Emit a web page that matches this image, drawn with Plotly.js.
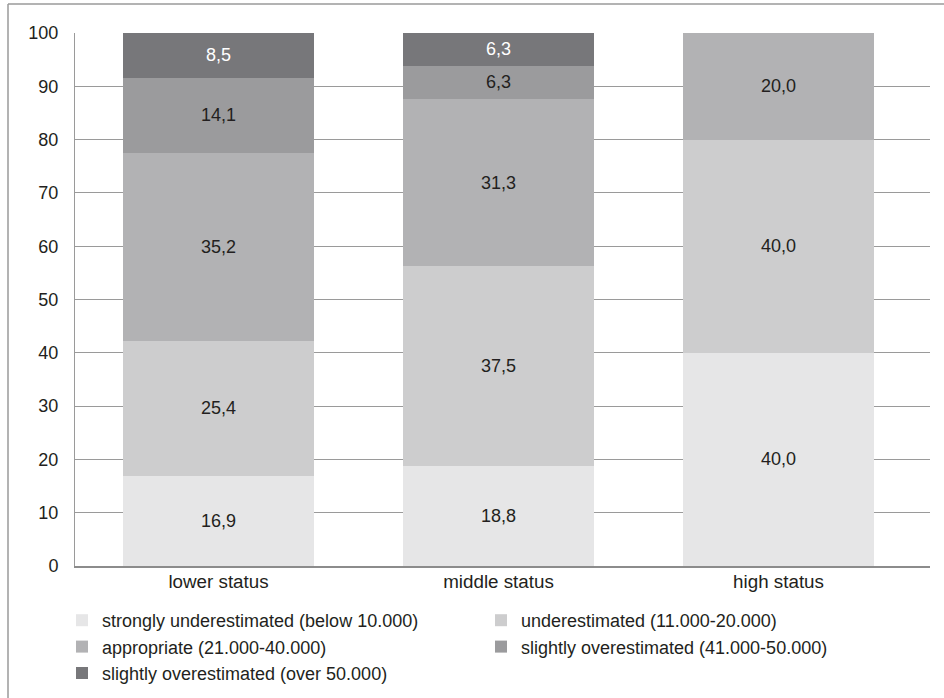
<!DOCTYPE html>
<html>
<head>
<meta charset="utf-8">
<script src="https://cdn.plot.ly/plotly-3.0.1.min.js"></script>
<style>html,body{margin:0;padding:0;background:#fff;}#chart{width:944px;height:698px;}</style>
</head>
<body>
<div id="chart"></div>
<script>
const categories = ["lower status", "middle status", "high status"];
const seriesNames = [
  "strongly underestimated (below 10.000)",
  "underestimated (11.000-20.000)",
  "appropriate (21.000-40.000)",
  "slightly overestimated (41.000-50.000)",
  "slightly overestimated (over 50.000)"
];
const strongUnder = [16.9, 18.8, 40.0];
const under = [25.4, 37.5, 40.0];
const appropriate = [35.2, 31.3, 20.0];
const slightOver = [14.1, 6.3, null];
const overFifty = [8.5, 6.3, null];
const yTicks = [0, 10, 20, 30, 40, 50, 60, 70, 80, 90, 100];

const seriesValues = [strongUnder, under, appropriate, slightOver, overFifty];
const colors = ["#e6e6e7", "#cdcdce", "#b2b2b4", "#9b9b9d", "#77777a"];
const textColors = ["#231f20", "#231f20", "#231f20", "#231f20", "#ffffff"];
const FONT = "Liberation Sans, Arial, Helvetica, sans-serif";
const NUM_SIZE = 18;
const TXT_SIZE = 18.8;
const LEG_SIZE = 18;

const traces = seriesValues.map((vals, i) => ({
  type: "bar",
  name: seriesNames[i],
  x: categories,
  y: vals,
  marker: {color: colors[i], line: {width: 0}},
  texttemplate: "%{y:.1f}",
  textposition: "inside",
  insidetextanchor: "middle",
  textangle: 0,
  constraintext: "none",
  textfont: {family: FONT, size: NUM_SIZE, color: textColors[i]},
  hoverinfo: "skip"
}));

const L = 75, R = 930, T = 33, B = 566, W = 944, H = 698;
const px = v => (v - L) / (R - L);
const py = v => (B - v) / (B - T);

const layout = {
  width: W, height: H,
  margin: {l: L, r: W - R, t: T, b: H - B},
  paper_bgcolor: "#fff", plot_bgcolor: "#fff",
  barmode: "stack",
  bargap: 0.32,
  separators: ",.",
  font: {family: FONT, size: TXT_SIZE, color: "#231f20"},
  xaxis: {
    type: "category",
    range: [-0.5125, 2.541],
    showgrid: false,
    showline: true, linecolor: "#8c8c8c", linewidth: 2,
    ticks: "",
    tickfont: {family: FONT, size: TXT_SIZE, color: "#231f20"},
    ticklabelstandoff: -3,
    fixedrange: true
  },
  yaxis: {
    range: [0, 100],
    tickvals: yTicks,
    ticktext: yTicks.map(String),
    showgrid: true, gridcolor: "#9a9a9a", gridwidth: 1,
    zeroline: false,
    showline: true, linecolor: "#9a9a9a", linewidth: 1,
    ticks: "",
    ticklabelstandoff: 12,
    tickfont: {family: FONT, size: NUM_SIZE, color: "#231f20"},
    fixedrange: true
  },
  showlegend: true,
  legend: {
    orientation: "h",
    traceorder: "normal",
    xref: "container", yref: "container",
    x: 62 / W, xanchor: "left",
    y: 1 - 602 / H, yanchor: "top",
    entrywidth: 374, entrywidthmode: "pixels",
    font: {family: FONT, size: LEG_SIZE, color: "#231f20"},
    bgcolor: "rgba(0,0,0,0)",
    itemclick: false, itemdoubleclick: false
  },
  shapes: [
    {type: "line", xref: "paper", yref: "paper", x0: px(8), x1: px(944), y0: py(4), y1: py(4), line: {color: "#9a9a9a", width: 1.5}},
    {type: "line", xref: "paper", yref: "paper", x0: px(8), x1: px(8), y0: py(4), y1: py(698), line: {color: "#9a9a9a", width: 1.5}}
  ]
};

Plotly.newPlot("chart", traces, layout, {displayModeBar: false, staticPlot: true});
</script>
</body>
</html>
